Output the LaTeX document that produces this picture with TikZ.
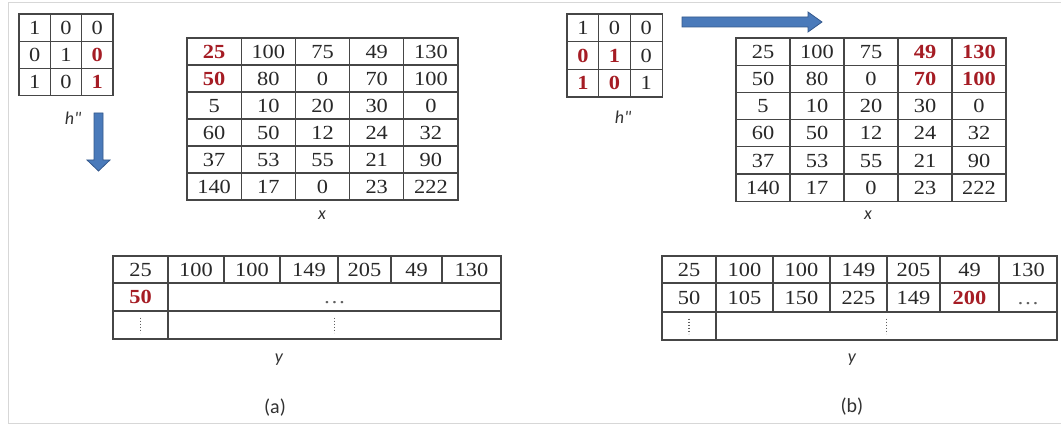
\documentclass[tikz,border=0pt]{standalone}
\usepackage{fontspec}
\setmainfont{Liberation Serif}
\newfontfamily\numfont[FakeStretch=1.12]{Liberation Serif}
\newfontfamily\labfont{Carlito}
\definecolor{hlred}{RGB}{165,28,36}
\definecolor{tabline}{RGB}{70,70,70}
\definecolor{numgray}{RGB}{40,40,40}
\definecolor{dotgray}{RGB}{95,95,95}
\definecolor{labgray}{RGB}{50,50,50}
\definecolor{arrowblue}{RGB}{74,122,186}
\definecolor{arrowedge}{RGB}{52,88,140}
\definecolor{framegray}{RGB}{215,215,215}
\newcommand\redv[1]{\textcolor{hlred}{\bfseries #1}}
\tikzset{
  cellbox/.style={draw=tabline, line width=1.2pt, inner sep=0pt,
    font=\numfont\fontsize{20}{20}\selectfont, text=numgray,
    text height=13.5pt, text depth=0pt},
  lab/.style={font=\labfont\itshape\fontsize{18}{18}\selectfont, text=labgray, inner sep=0pt},
  caplab/.style={font=\labfont\fontsize{20}{20}\selectfont, text=labgray, inner sep=0pt},
  vdotline/.style={draw=dotgray, line width=1.7pt, dash pattern=on 1.3pt off 1.7pt},
  blockarrow/.style={fill=arrowblue, draw=arrowedge, line width=0.8pt}
}
\begin{document}
\begin{tikzpicture}[x=1pt,y=-1pt]
\useasboundingbox (0,0) rectangle (1061,425);
\draw[framegray, line width=1pt] (1061,3) -- (8,3) -- (8,423) -- (1061,423);

% ---------- (a) ----------
\foreach \rowv [count=\r] in {{1,0,0},{0,1,\redv{0}},{1,0,\redv{1}}}
  \foreach \v [count=\c] in \rowv
    \node[cellbox, minimum width=31.3, minimum height=27.3] (ha-\r-\c)
      at ({19+31.3*(\c-0.5)},{14+27.3*(\r-0.5)}) {\v};
\node[lab] (ha-lab) at (73,118) {h"};

\foreach \rowv [count=\r] in {{\redv{25},100,75,49,130},{\redv{50},80,0,70,100},{5,10,20,30,0},{60,50,12,24,32},{37,53,55,21,90},{140,17,0,23,222}}
  \foreach \v [count=\c] in \rowv
    \node[cellbox, minimum width=54.2, minimum height=27] (xa-\r-\c)
      at ({187+54.2*(\c-0.5)},{38+27*(\r-0.5)}) {\v};
\node[lab] (xa-lab) at (322,215) {x};

\fill[blockarrow] (94,113) -- (103,113) -- (103,160) -- (110,160) -- (98.5,171) -- (87,160) -- (94,160) -- cycle;

\foreach \l/\rr/\t [count=\c] in {113/168/25,168/224/100,224/280/100,280/338/149,338/391/205,391/442/49,442/501/130}
  \node[cellbox, minimum width=\rr-\l, minimum height=27] (ya-1-\c) at ({(\l+\rr)/2},269.5) {\t};
\node[cellbox, minimum width=55, minimum height=28] (ya-2-1) at (140.5,297) {\redv{50}};
\node[cellbox, minimum width=333, minimum height=28, text=dotgray] (ya-2-2) at (334.5,297) {…};
\node[cellbox, minimum width=55, minimum height=28] (ya-3-1) at (140.5,325) {};
\node[cellbox, minimum width=333, minimum height=28] (ya-3-2) at (334.5,325) {};
\draw[vdotline] ([yshift=7.5pt]ya-3-1.center) -- ([yshift=-7.5pt]ya-3-1.center);
\draw[vdotline] ([yshift=7.5pt]ya-3-2.center) -- ([yshift=-7.5pt]ya-3-2.center);
\node[lab] (ya-lab) at (279,360) {y};
\node[caplab] (cap-a) at (275,408) {(a)};

% ---------- (b) ----------
\foreach \rowv [count=\r] in {{1,0,0},{\redv{0},\redv{1},0},{\redv{1},\redv{0},1}}
  \foreach \v [count=\c] in \rowv
    \node[cellbox, minimum width=31.7, minimum height=27.7] (hb-\r-\c)
      at ({567+31.7*(\c-0.5)},{14+27.7*(\r-0.5)}) {\v};
\node[lab] (hb-lab) at (623,117) {h"};

\fill[blockarrow] (682,17) -- (808,17) -- (808,12) -- (822,22) -- (808,32) -- (808,27) -- (682,27) -- cycle;

\foreach \rowv [count=\r] in {{25,100,75,\redv{49},\redv{130}},{50,80,0,\redv{70},\redv{100}},{5,10,20,30,0},{60,50,12,24,32},{37,53,55,21,90},{140,17,0,23,222}}
  \foreach \v [count=\c] in \rowv
    \node[cellbox, minimum width=54, minimum height=27.2] (xb-\r-\c)
      at ({736+54*(\c-0.5)},{38+27.2*(\r-0.5)}) {\v};
\node[lab] (xb-lab) at (868,215) {x};

\foreach \l/\rr/\t [count=\c] in {662/716/25,716/773/100,773/830/100,830/887/149,887/940/205,940/999/49,999/1057/130}
  \node[cellbox, minimum width=\rr-\l, minimum height=27] (yb-1-\c) at ({(\l+\rr)/2},269.5) {\t};
\foreach \l/\rr/\t [count=\c] in {662/716/50,716/773/105,773/830/150,830/887/225,887/940/149,940/999/\redv{200},999/1057/{\textcolor{dotgray}{…}}}
  \node[cellbox, minimum width=\rr-\l, minimum height=29] (yb-2-\c) at ({(\l+\rr)/2},297.5) {\t};
\node[cellbox, minimum width=54, minimum height=28] (yb-3-1) at (689,326) {};
\node[cellbox, minimum width=341, minimum height=28] (yb-3-2) at (886.5,326) {};
\draw[vdotline] ([yshift=7.5pt]yb-3-1.center) -- ([yshift=-7.5pt]yb-3-1.center);
\draw[vdotline] ([yshift=7.5pt]yb-3-2.center) -- ([yshift=-7.5pt]yb-3-2.center);
\node[lab] (yb-lab) at (852,360) {y};
\node[caplab] (cap-b) at (852,407) {(b)};
\end{tikzpicture}
\end{document}
